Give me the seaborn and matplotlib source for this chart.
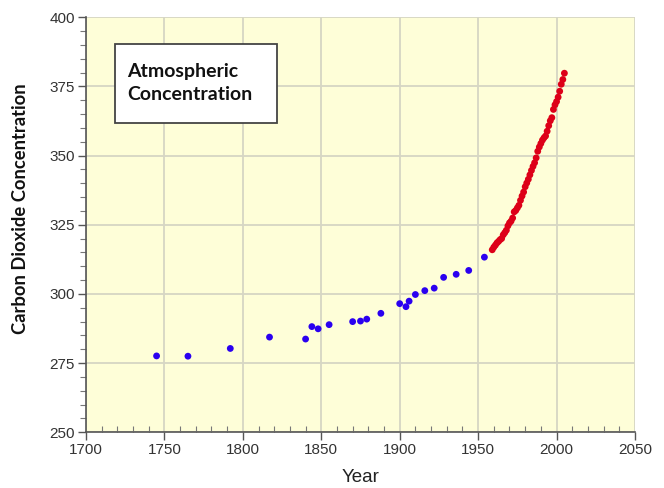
import matplotlib
matplotlib.use("Agg")
import matplotlib.pyplot as plt
import seaborn as sns
import pandas as pd
from matplotlib.ticker import MultipleLocator
from matplotlib.patches import Rectangle

# Ice-core era (blue)
ice_years = [1745, 1765, 1792, 1817, 1840, 1844, 1848, 1855, 1870, 1875, 1879, 1888,
             1900, 1904, 1906, 1910, 1916, 1922, 1928, 1936, 1944, 1954]
ice_co2 = [277.6, 277.5, 280.3, 284.4, 283.7, 288.2, 287.4, 288.9, 290.0, 290.2, 290.9, 293.0,
           296.5, 295.4, 297.4, 299.8, 301.2, 302.1, 306.0, 307.1, 308.5, 313.3]

# Direct measurements (red)
ml_years = list(range(1959, 2006))
ml_co2 = [315.97, 316.91, 317.64, 318.45, 318.99, 319.62, 320.04, 321.38, 322.16, 323.04,
          324.62, 325.68, 326.32, 327.45, 329.68, 330.18, 331.11, 332.04, 333.83, 335.40,
          336.84, 338.75, 340.11, 341.45, 343.05, 344.65, 346.12, 347.42, 349.19, 351.57,
          353.12, 354.39, 355.61, 356.45, 357.10, 358.83, 360.82, 362.61, 363.73, 366.70,
          368.38, 369.55, 371.14, 373.28, 375.80, 377.52, 379.80]

x_ticks = [1700, 1750, 1800, 1850, 1900, 1950, 2000, 2050]
y_ticks = [250, 275, 300, 325, 350, 375, 400]
box_text = "Atmospheric\nConcentration"
x_label = "Year"
y_label = "Carbon Dioxide Concentration"

sns.set_style("ticks")

fig = plt.figure(figsize=(6.64, 4.88), dpi=100)
ax = fig.add_axes([0.1295, 0.1142, 0.9563 - 0.1295, 0.9645 - 0.1142])
ax.set_facecolor("#FEFED8")

ice_df = pd.DataFrame({"year": ice_years, "co2": ice_co2})
ml_df = pd.DataFrame({"year": ml_years, "co2": ml_co2})

sns.scatterplot(data=ice_df, x="year", y="co2", ax=ax, color="#2A00F0", s=24,
                edgecolor="none", zorder=3)
sns.scatterplot(data=ml_df, x="year", y="co2", ax=ax, color="#DD0018", s=24,
                edgecolor="none", zorder=3)

ax.set_xlim(1700, 2050)
ax.set_ylim(250, 400)
ax.set_xticks(x_ticks)
ax.set_yticks(y_ticks)
ax.xaxis.set_minor_locator(MultipleLocator(10))
ax.yaxis.set_minor_locator(MultipleLocator(5))
ax.grid(True, which="major", color="#D6D6C4", linewidth=1.3, zorder=0)
ax.set_axisbelow(True)

for side in ["top", "right"]:
    ax.spines[side].set_visible(False)
for side in ["left", "bottom"]:
    ax.spines[side].set_color("#555555")
    ax.spines[side].set_linewidth(1.2)

ax.tick_params(axis="both", which="major", direction="out", length=6, width=1,
               color="#555555", labelsize=11, labelcolor="#333333", pad=2)
ax.tick_params(axis="x", which="minor", direction="in", length=4, width=0.8, color="#777777")
ax.tick_params(axis="y", which="minor", direction="out", length=4, width=0.8, color="#777777")
for lab in ax.get_xticklabels() + ax.get_yticklabels():
    lab.set_family(["Liberation Sans", "DejaVu Sans"])

ax.set_xlabel(x_label, fontsize=13.5, family=["Liberation Sans", "DejaVu Sans"],
              color="#222222")
ax.xaxis.set_label_coords(0.5, -0.088)
ax.set_ylabel(y_label, fontsize=13.2, fontweight="bold", family=["Lato", "DejaVu Sans"],
              color="#111111")
ax.yaxis.set_label_coords(-0.103, 0.54)

ax.add_patch(Rectangle((0.0528, 0.745), 0.295, 0.19, transform=ax.transAxes,
                       facecolor="white", edgecolor="#444444", linewidth=1.3, zorder=5))
ax.text(0.0747, 0.842, box_text, transform=ax.transAxes, fontsize=14, fontweight="bold",
        family=["Lato", "DejaVu Sans"], color="#111111", va="center", ha="left",
        linespacing=1.38, zorder=6)

fig.savefig("out.png", dpi=100)
